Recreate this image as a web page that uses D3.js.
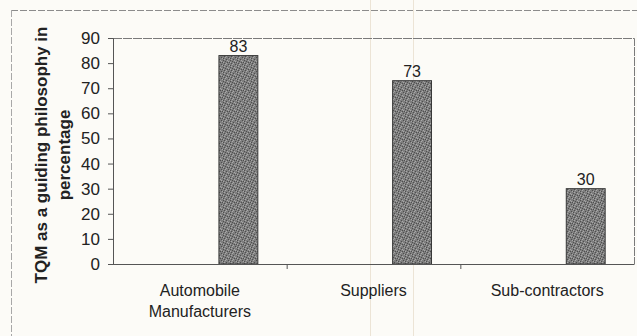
<!DOCTYPE html>
<html>
<head>
<meta charset="utf-8">
<script src="https://cdn.jsdelivr.net/npm/d3@7"></script>
<style>
  html, body { margin: 0; padding: 0; background: #fcfbf7; }
  svg { display: block; }
  text { font-family: "Liberation Sans", Arial, sans-serif; fill: #222; }
</style>
</head>
<body>
<svg id="chart" width="637" height="336"></svg>
<script>
// Share of respondents treating TQM as a guiding philosophy, by group
const categories = ["Automobile Manufacturers", "Suppliers", "Sub-contractors"];
const categoryLines = [["Automobile", "Manufacturers"], ["Suppliers"], ["Sub-contractors"]];
const values = [83, 73, 30];
const yTicks = [0, 10, 20, 30, 40, 50, 60, 70, 80, 90];
const yTitleLines = ["TQM as a guiding philosophy in", "percentage"];

const W = 637, H = 336;
const plot = { left: 113, right: 634, top: 38, bottom: 264 };

const svg = d3.select("#chart");

// Stippled fill for the bars
const defs = svg.append("defs");
const pat = defs.append("pattern")
  .attr("id", "stipple").attr("patternUnits", "userSpaceOnUse")
  .attr("width", 7).attr("height", 7);
pat.append("rect").attr("width", 7).attr("height", 7).attr("fill", "#7e7e7e");
const darkDots = [[0,0],[4,1],[2,3],[6,4],[1,5],[5,6],[3,6],[6,2]];
const lightDots = [[2,0],[5,2],[0,3],[3,4],[6,6],[1,1],[4,5]];
darkDots.forEach(([px, py]) => pat.append("rect").attr("x", px).attr("y", py)
  .attr("width", 1).attr("height", 1).attr("fill", "#4e4e4e"));
lightDots.forEach(([px, py]) => pat.append("rect").attr("x", px).attr("y", py)
  .attr("width", 1).attr("height", 1).attr("fill", "#a8a8a8"));

// Outer chart frame
svg.append("line").attr("x1", 11).attr("x2", W).attr("y1", 10.5).attr("y2", 10.5)
  .attr("stroke", "#8c8c8c").attr("stroke-dasharray", "7,2");
svg.append("line").attr("x1", 11.5).attr("x2", 11.5).attr("y1", 10).attr("y2", H)
  .attr("stroke", "#a8a8a8").attr("stroke-dasharray", "7,2");

// Faint paper fold lines
[370.5, 413.5].forEach(x => {
  svg.append("line").attr("x1", x).attr("x2", x).attr("y1", 0).attr("y2", H)
    .attr("stroke", "#ece4d6").attr("stroke-width", 1);
});

const x = d3.scaleBand().domain(categories).range([plot.left, plot.right]).padding(0);
const y = d3.scaleLinear().domain([0, 90]).range([plot.bottom, plot.top]);

// Plot area border (top and right)
svg.append("path")
  .attr("d", `M${plot.left},${plot.top + 0.5}H${plot.right + 0.5}V${plot.bottom}`)
  .attr("fill", "none").attr("stroke", "#7a7a7a").attr("stroke-dasharray", "9,1");

// Bars sit in the right part of each category slot
const barOffset = 0.61, barWidth = 0.224;
svg.selectAll("rect.bar").data(values).join("rect")
  .attr("class", "bar")
  .attr("x", (d, i) => x(categories[i]) + x.bandwidth() * barOffset)
  .attr("y", d => y(d))
  .attr("width", x.bandwidth() * barWidth)
  .attr("height", d => y(0) - y(d))
  .attr("fill", "url(#stipple)")
  .attr("stroke", "#383838").attr("stroke-width", 1);

// Value labels
svg.selectAll("text.val").data(values).join("text")
  .attr("class", "val")
  .attr("x", (d, i) => x(categories[i]) + x.bandwidth() * (barOffset + barWidth / 2))
  .attr("y", d => y(d) - 4)
  .attr("text-anchor", "middle")
  .attr("font-size", 16).attr("fill", "#2a2a2a")
  .text(d => d);

// Y axis
const yAxis = svg.append("g").attr("transform", `translate(${plot.left},0)`)
  .call(d3.axisLeft(y).tickValues(yTicks).tickSize(5).tickPadding(8));
yAxis.select(".domain").attr("stroke", "#555");
yAxis.selectAll(".tick line").attr("stroke", "#555");
yAxis.selectAll(".tick text").attr("font-size", 17).attr("fill", "#2a2a2a")
  .attr("font-family", "Liberation Sans, Arial, sans-serif");

// X axis with ticks at category boundaries
const xAxis = svg.append("g").attr("transform", `translate(0,${plot.bottom})`);
xAxis.append("line").attr("x1", plot.left).attr("x2", plot.right + 0.5)
  .attr("y1", 0.5).attr("y2", 0.5).attr("stroke", "#555");
xAxis.selectAll("line.bt").data(categories.slice(1)).join("line")
  .attr("class", "bt")
  .attr("x1", d => x(d) + 0.5).attr("x2", d => x(d) + 0.5)
  .attr("y1", 0).attr("y2", 5).attr("stroke", "#555");

// Category labels
categoryLines.forEach((lines, i) => {
  const cx = x(categories[i]) + x.bandwidth() / 2;
  lines.forEach((ln, j) => {
    svg.append("text")
      .attr("x", cx).attr("y", 296 + j * 21)
      .attr("text-anchor", "middle").attr("font-size", 16).attr("fill", "#2a2a2a")
      .text(ln);
  });
});

// Y axis title
const yTitle = svg.append("g").attr("transform", "translate(0,155) rotate(-90)");
yTitleLines.forEach((ln, j) => {
  yTitle.append("text")
    .attr("x", 0).attr("y", 47 + j * 23)
    .attr("text-anchor", "middle")
    .attr("font-size", 17).attr("font-weight", "bold").attr("fill", "#222")
    .text(ln);
});
</script>
</body>
</html>
